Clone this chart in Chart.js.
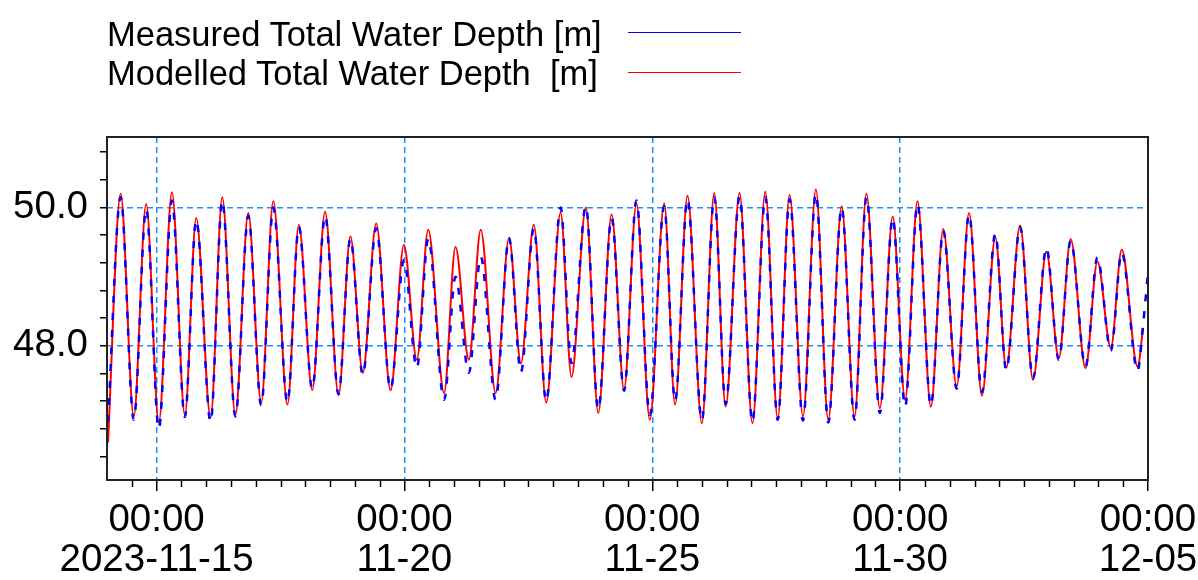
<!DOCTYPE html>
<html>
<head>
<meta charset="utf-8">
<script src="https://cdn.jsdelivr.net/npm/chart.js@4.4.0/dist/chart.umd.min.js"></script>
<style>
  body { margin: 0; background: #fff; }
  #wrap { position: relative; width: 1198px; height: 580px; }
  canvas { display: block; }
  .leg { position: absolute; left: 107px; font: 34.5px Arial, "Liberation Sans", sans-serif; line-height: 34px; color: #000; white-space: pre; }
  .legline { position: absolute; left: 628px; width: 113px; height: 0; }
</style>
</head>
<body>
<div id="wrap">
  <canvas id="depthChart" width="1198" height="580"></canvas>
  <div class="leg" style="top:17px">Measured Total Water Depth [m]</div>
  <div class="leg" style="top:56px">Modelled Total Water Depth  [m]</div>
  <div class="legline" style="top:32px; border-top:1.5px solid #0000ff"></div>
  <div class="legline" style="top:72px; border-top:1.5px solid #ff0000"></div>
</div>
<script>
// days since 2023-11-14 00:00, high / low water
const extremaDays = [
  0.02, 0.275, 0.54, 0.79, 1.045, 1.31, 1.57, 1.80, 2.09, 2.325,
  2.59, 2.85, 3.11, 3.355, 3.64, 3.87, 4.14, 4.40, 4.67, 4.91,
  5.16, 5.43, 5.72, 5.99, 6.25, 6.48, 6.80, 7.03, 7.30, 7.54,
  7.84, 8.11, 8.35, 8.61, 8.86, 9.15, 9.37, 9.66, 9.91, 10.18,
  10.43, 10.68, 10.95, 11.24, 11.46, 11.71, 12.00, 12.25, 12.48, 12.76,
  13.02, 13.28, 13.53, 13.77, 14.04, 14.30, 14.55, 14.82, 15.08, 15.32,
  15.59, 15.85, 16.10, 16.35, 16.62, 16.87, 17.14, 17.39, 17.65, 17.92,
  18.14, 18.42, 18.68, 18.95, 19.20, 19.44, 19.74, 19.98, 20.25, 20.47,
  20.79, 20.90, 21.00
];
const measuredDepth = [
  46.90, 50.15, 46.93, 49.98, 46.80, 50.10, 46.97, 49.82, 46.90, 50.10,
  46.98, 49.88, 47.14, 50.00, 47.18, 49.72, 47.38, 49.88, 47.30, 49.55,
  47.58, 49.70, 47.38, 49.24, 47.68, 49.55, 47.22, 49.00, 47.61, 49.29,
  47.22, 49.56, 47.62, 49.70, 47.20, 50.00, 47.75, 50.02, 47.08, 49.85,
  47.35, 50.10, 47.00, 50.02, 47.20, 50.12, 46.92, 50.15, 47.16, 50.16,
  46.90, 50.15, 46.93, 50.12, 46.92, 50.20, 46.89, 50.00, 46.93, 50.15,
  47.03, 49.85, 47.12, 50.05, 47.14, 49.66, 47.38, 49.90, 47.33, 49.62,
  47.65, 49.72, 47.53, 49.42, 47.80, 49.52, 47.70, 49.28, 47.93, 49.35,
  47.64, 48.30, 49.06
];
const modelledDepth = [
  46.60, 50.20, 46.98, 50.05, 46.89, 50.22, 47.00, 49.85, 46.96, 50.15,
  47.00, 49.92, 47.18, 50.09, 47.15, 49.75, 47.36, 49.94, 47.29, 49.58,
  47.61, 49.77, 47.36, 49.46, 47.80, 49.68, 47.32, 49.43, 47.80, 49.68,
  47.32, 49.56, 47.75, 49.75, 47.18, 49.93, 47.55, 50.00, 47.03, 49.90,
  47.37, 50.06, 46.93, 50.06, 47.15, 50.17, 46.88, 50.21, 47.12, 50.21,
  46.88, 50.23, 46.95, 50.18, 46.98, 50.26, 46.93, 50.02, 46.98, 50.20,
  47.10, 49.87, 47.22, 50.09, 47.12, 49.69, 47.41, 49.92, 47.28, 49.57,
  47.68, 49.74, 47.51, 49.36, 47.82, 49.54, 47.68, 49.22, 47.97, 49.39,
  47.70, 48.25, null
];

const xMajorDays = [1, 6, 11, 16, 21];
const xTimeLabels = ['00:00', '00:00', '00:00', '00:00', '00:00'];
const xDateLabels = ['2023-11-15', '11-20', '11-25', '11-30', '12-05'];
const yMajorTicks = [48, 50];

const tickFont = { family: 'Arial, "Liberation Sans", sans-serif', size: 38.5, lineHeight: 1.05 };
const gridBlue = '#1e8fff';

function isMajorY(v) {
  return yMajorTicks.some(m => Math.abs(m - v) < 1e-6);
}

// frame round the plot + short half-day ticks on the time axis
const frameAndMinorTicks = {
  id: 'frameAndMinorTicks',
  afterDraw(chart) {
    const { ctx, chartArea: a, scales } = chart;
    ctx.save();
    ctx.strokeStyle = '#000';
    ctx.lineWidth = 1.5;
    for (let d = 0.5; d < 21; d += 0.5) {
      if (xMajorDays.includes(d)) continue;
      const px = Math.round(scales.x.getPixelForValue(d)) + 0.5;
      ctx.beginPath();
      ctx.moveTo(px, a.bottom);
      ctx.lineTo(px, a.bottom + 7);
      ctx.stroke();
    }
    ctx.lineWidth = 2;
    ctx.strokeStyle = '#222';
    ctx.strokeRect(a.left, a.top, a.right - a.left, a.bottom - a.top);
    ctx.restore();
  }
};

const ctx = document.getElementById('depthChart').getContext('2d');

const depthChart = new Chart(ctx, {
  type: 'line',
  data: {
    datasets: [{
      label: 'Measured Total Water Depth [m]',
      data: extremaDays.map((d, i) => ({ x: d, y: measuredDepth[i] })),
      borderColor: '#0000ff',
      borderWidth: 2.5,
      borderDash: [7, 10],
      pointRadius: 0,
      cubicInterpolationMode: 'monotone',
      fill: false
    }, {
      label: 'Modelled Total Water Depth  [m]',
      data: extremaDays.map((d, i) => ({ x: d, y: modelledDepth[i] })),
      borderColor: '#ff0000',
      borderWidth: 2,
      pointRadius: 0,
      cubicInterpolationMode: 'monotone',
      fill: false
    }]
  },
  options: {
    responsive: false,
    animation: false,
    layout: { padding: { top: 137, right: 50, bottom: 0, left: 0 } },
    plugins: {
      legend: { display: false },
      tooltip: { enabled: false }
    },
    scales: {
      x: {
        type: 'linear',
        min: 0,
        max: 21,
        afterBuildTicks: scale => { scale.ticks = xMajorDays.map(v => ({ value: v })); },
        afterFit: scale => {
          scale.height = 100;
          scale.paddingLeft = 0;
          scale.paddingRight = 0;
        },
        ticks: {
          autoSkip: false,
          maxRotation: 0,
          padding: 9,
          color: '#000',
          font: tickFont,
          callback: value => {
            const i = xMajorDays.indexOf(value);
            return i < 0 ? '' : [xTimeLabels[i], xDateLabels[i]];
          }
        },
        grid: {
          color: gridBlue,
          lineWidth: 1.5,
          tickColor: '#000',
          tickLength: 11,
          tickWidth: 1.5
        },
        border: { display: false, dash: [6, 4] }
      },
      y: {
        min: 46.06,
        max: 51.02,
        afterBuildTicks: scale => {
          const t = [];
          for (let k = 0; k <= 11; k++) t.push({ value: +(46.4 + k * 0.4).toFixed(1) });
          scale.ticks = t;
        },
        afterFit: scale => {
          scale.width = 107;
          scale.paddingTop = 0;
          scale.paddingBottom = 0;
        },
        ticks: {
          autoSkip: false,
          padding: 12,
          color: '#000',
          font: tickFont,
          callback: value => isMajorY(value) ? value.toFixed(1) : ''
        },
        grid: {
          color: c => (c.tick && isMajorY(c.tick.value)) ? gridBlue : 'rgba(0,0,0,0)',
          lineWidth: 1.5,
          tickColor: '#000',
          tickLength: 7,
          tickWidth: 1.5
        },
        border: { display: false, dash: [6, 4] }
      }
    }
  },
  plugins: [frameAndMinorTicks]
});
</script>
</body>
</html>
